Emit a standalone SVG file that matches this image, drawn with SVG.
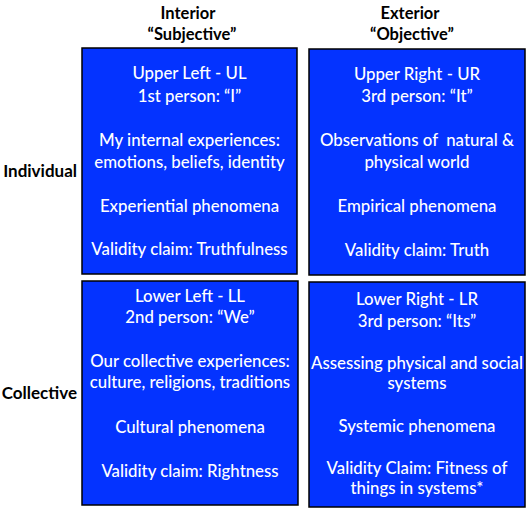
<svg xmlns="http://www.w3.org/2000/svg" width="531" height="509" viewBox="0 0 531 509">
<style>
.bg{fill:#ffffff}
.box{fill:#0433FF;stroke:#000000;stroke-width:1.5}
.t{font-family:Lato,"Liberation Sans",sans-serif;font-size:16.8px;font-weight:500;fill:#ffffff;text-anchor:middle}
.h{font-family:Lato,"Liberation Sans",sans-serif;font-size:16.5px;font-weight:bold;fill:#000000;text-anchor:middle}
.s{font-family:Lato,"Liberation Sans",sans-serif;font-size:17px;font-weight:bold;fill:#000000;text-anchor:end}
</style>
<rect class="bg" x="0" y="0" width="531" height="509"/>
<g id="headers">
<text class="h" x="188" y="19">Interior</text>
<text class="h" x="192" y="39.5">“Subjective”</text>
<text class="h" x="410" y="19">Exterior</text>
<text class="h" x="412" y="39.5">“Objective”</text>
<text class="s" x="77" y="177">Individual</text>
<text class="s" x="77" y="399">Collective</text>
</g>
<g id="UL">
<rect class="box" x="82" y="48" width="215" height="226"/>
<text class="t" x="189.5" y="79">Upper Left - UL</text>
<text class="t" x="189.5" y="102">1st person: “I”</text>
<text class="t" x="189.5" y="146">My internal experiences:</text>
<text class="t" x="189.5" y="168">emotions, beliefs, identity</text>
<text class="t" x="189.5" y="212">Experiential phenomena</text>
<text class="t" x="189.5" y="255">Validity claim: Truthfulness</text>
</g>
<g id="UR">
<rect class="box" x="309" y="49" width="216" height="226"/>
<text class="t" x="417" y="80">Upper Right - UR</text>
<text class="t" x="417" y="102">3rd person: “It”</text>
<text class="t" x="417" y="146" xml:space="preserve" style="white-space:pre">Observations of  natural &amp;</text>
<text class="t" x="417" y="168">physical world</text>
<text class="t" x="417" y="212">Empirical phenomena</text>
<text class="t" x="417" y="256">Validity claim: Truth</text>
</g>
<g id="LL">
<rect class="box" x="82" y="281" width="216" height="224"/>
<text class="t" x="190" y="302">Lower Left - LL</text>
<text class="t" x="190" y="323">2nd person: “We”</text>
<text class="t" x="190" y="367">Our collective experiences:</text>
<text class="t" x="190" y="388">culture, religions, traditions</text>
<text class="t" x="190" y="433">Cultural phenomena</text>
<text class="t" x="190" y="477">Validity claim: Rightness</text>
</g>
<g id="LR">
<rect class="box" x="309" y="282" width="216" height="225"/>
<text class="t" x="417" y="305">Lower Right - LR</text>
<text class="t" x="417" y="327">3rd person: “Its”</text>
<text class="t" x="417" y="369">Assessing physical and social</text>
<text class="t" x="417" y="389">systems</text>
<text class="t" x="417" y="432">Systemic phenomena</text>
<text class="t" x="417" y="474">Validity Claim: Fitness of</text>
<text class="t" x="417" y="494">things in systems*</text>
</g>
<g id="connectors"></g>
</svg>
